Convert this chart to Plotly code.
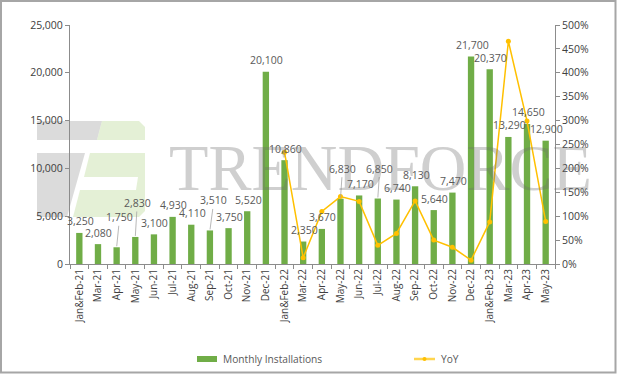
import plotly.graph_objects as go

categories = ["Jan&Feb-21", "Mar-21", "Apr-21", "May-21", "Jun-21", "Jul-21", "Aug-21",
              "Sep-21", "Oct-21", "Nov-21", "Dec-21", "Jan&Feb-22", "Mar-22", "Apr-22",
              "May-22", "Jun-22", "Jul-22", "Aug-22", "Sep-22", "Oct-22", "Nov-22",
              "Dec-22", "Jan&Feb-23", "Mar-23", "Apr-23", "May-23"]
installations = [3250, 2080, 1750, 2830, 3100, 4930, 4110, 3510, 3750, 5520, 20100,
                 10860, 2350, 3670, 6830, 7170, 6850, 6740, 8130, 5640, 7470, 21700,
                 20370, 13290, 14650, 12900]
yoy_pct = [None] * 11 + [234, 13, 110, 141, 131, 39, 64, 132, 50, 35, 8, 88, 466, 299, 89]

BAR_COLOR = "#70AD47"
LINE_COLOR = "#FFC000"
FONT = "Open Sans"
AXIS_COLOR = "#8C8C8C"

W, H = 617, 374
L, R, T, B = 70, 62, 25, 110
PW, PH = W - L - R, H - T - B


def px(x):
    return (x - L) / PW


def py(y):
    return (H - B - y) / PH


fig = go.Figure()
fig.add_trace(go.Bar(x=categories, y=installations, name="Monthly Installations",
                     marker=dict(color=BAR_COLOR, line=dict(width=0)), yaxis="y"))
fig.add_trace(go.Scatter(x=categories, y=yoy_pct, name="YoY", mode="lines+markers",
                         line=dict(color=LINE_COLOR, width=1.5),
                         marker=dict(color=LINE_COLOR, size=5), yaxis="y2",
                         connectgaps=False))

annotations = []
# data labels
leader = {2: (3, -30), 3: (2, -34), 7: (4, -30), 14: (2, -30), 16: (2, -30)}
for i, (c, v) in enumerate(zip(categories, installations)):
    txt = f"{v:,}"
    if i in leader:
        dx, dy = leader[i]
        annotations.append(dict(x=c, y=v, xref="x", yref="y", text=txt, showarrow=True,
                                ax=dx, ay=dy, arrowhead=0, arrowwidth=0.8,
                                arrowcolor="#A6A6A6", standoff=1,
                                font=dict(family=FONT, size=10.5, color="#595959")))
    else:
        annotations.append(dict(x=c, y=v, xref="x", yref="y", text=txt, showarrow=False,
                                yanchor="middle", yshift=11.5, xshift=1,
                                font=dict(family=FONT, size=10.5, color="#595959")))

# watermark text
annotations.append(dict(x=px(380), y=py(168), xref="paper", yref="paper",
                        text="TRENDFORCE", showarrow=False, xanchor="center",
                        yanchor="middle",
                        font=dict(family="Liberation Serif", size=64.5,
                                  color="rgba(110,110,110,0.33)")))

# custom legend text
annotations.append(dict(x=px(221), y=py(359), xref="paper", yref="paper",
                        text="Monthly Installations", showarrow=False, xanchor="left",
                        yanchor="middle",
                        font=dict(family=FONT, size=10.2, color="#595959")))
annotations.append(dict(x=px(439), y=py(359), xref="paper", yref="paper",
                        text="YoY", showarrow=False, xanchor="left", yanchor="middle",
                        font=dict(family=FONT, size=10.2, color="#595959")))


def poly(points, color):
    d = "M " + " L ".join(f"{px(a)} {py(b)}" for a, b in points) + " Z"
    return dict(type="path", xref="paper", yref="paper", path=d,
                fillcolor=color, line=dict(width=0), layer="below")


GRAY = "rgba(200,200,200,0.65)"
GREEN = "rgba(205,228,180,0.55)"
shapes = [
    poly([(37, 121), (102, 121), (97, 140), (37, 140)], GRAY),
    poly([(37, 153), (85, 153), (67, 217), (37, 217)], GRAY),
    poly([(102, 121), (139, 121), (145, 127), (145, 140), (97, 140)], GREEN),
    poly([(90, 153), (145, 153), (145, 177), (84, 177)], GREEN),
    poly([(138, 177), (145, 177), (145, 190), (136, 190)], GREEN),
    poly([(80, 190), (145, 190), (145, 211), (139, 217), (73, 217)], GREEN),
    # legend swatches
    dict(type="rect", xref="paper", yref="paper", x0=px(197), x1=px(217),
         y0=py(362), y1=py(356), fillcolor=BAR_COLOR, line=dict(width=0)),
    dict(type="line", xref="paper", yref="paper", x0=px(414), x1=px(435),
         y0=py(359), y1=py(359), line=dict(color="#FFD54F", width=2.5)),
    dict(type="circle", xref="paper", yref="paper", x0=px(422.5), x1=px(426.5),
         y0=py(361), y1=py(357), fillcolor=LINE_COLOR, line=dict(width=0)),
    # outer border
    dict(type="rect", xref="paper", yref="paper", x0=px(1), x1=px(615.5),
         y0=py(372.5), y1=py(1), line=dict(color="#A6A6A6", width=2)),
]

axis_font = dict(family=FONT, size=10.5, color="#404040")
fig.update_layout(
    width=W, height=H, autosize=False,
    margin=dict(l=L, r=R, t=T, b=B),
    paper_bgcolor="white", plot_bgcolor="white",
    showlegend=False, bargap=0.66,
    annotations=annotations, shapes=shapes,
    xaxis=dict(type="category", tickangle=-90, tickfont=dict(family=FONT, size=10, color="#404040"),
               showline=True, linecolor=AXIS_COLOR, linewidth=1, ticks="outside",
               tickson="boundaries", ticklen=4, tickcolor=AXIS_COLOR, showgrid=False,
               range=[-0.5, len(categories) - 0.5]),
    yaxis=dict(range=[0, 25000], dtick=5000, tickformat=",", tickfont=axis_font,
               showline=True, linecolor=AXIS_COLOR, linewidth=1, ticks="outside",
               ticklen=4, tickcolor=AXIS_COLOR, showgrid=False, zeroline=False),
    yaxis2=dict(range=[0, 500], dtick=50, ticksuffix="%", tickfont=axis_font,
                overlaying="y", side="right", showline=True, linecolor=AXIS_COLOR,
                linewidth=1, ticks="outside", ticklen=4, tickcolor=AXIS_COLOR,
                showgrid=False, zeroline=False),
)

fig.write_html("out.html", config={"displayModeBar": False},
               post_script="document.body.style.margin='0px';document.body.style.overflow='hidden';")
